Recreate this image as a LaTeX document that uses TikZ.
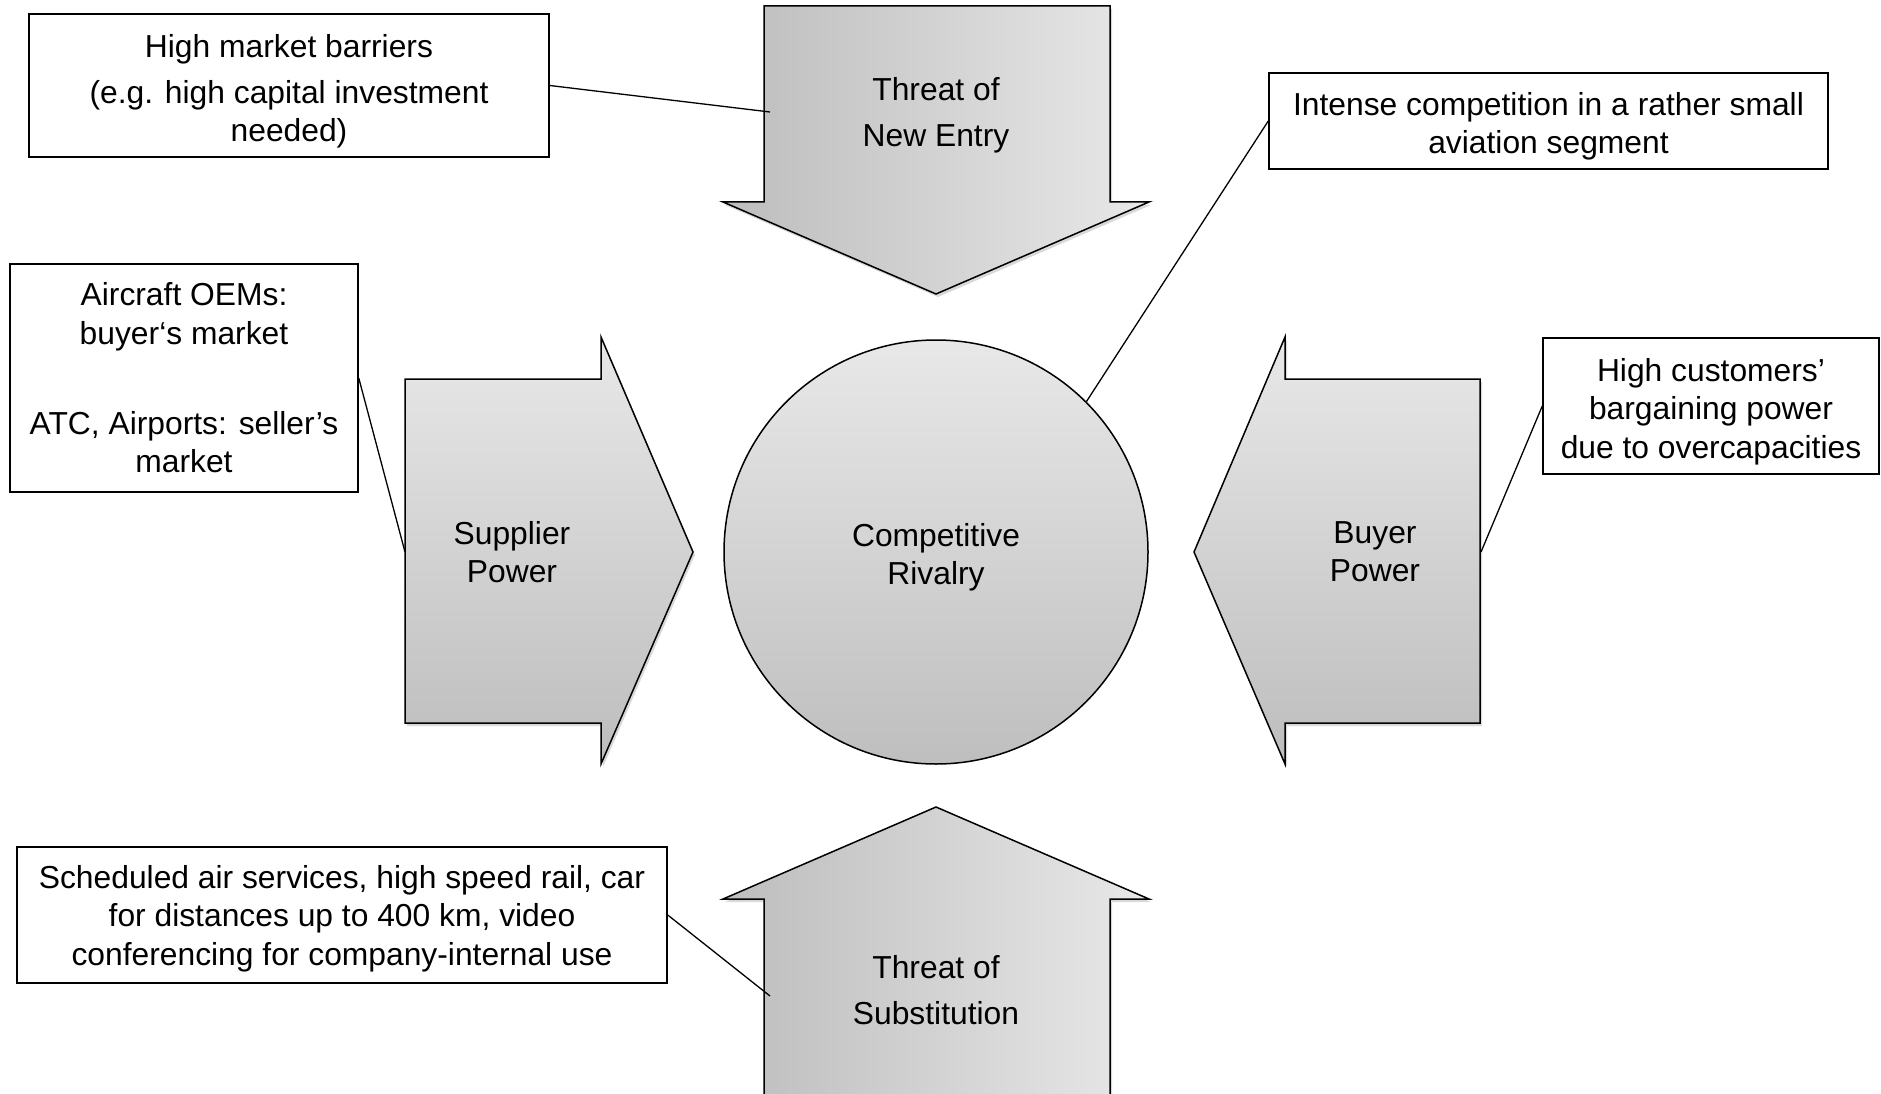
\documentclass[tikz,border=0pt]{standalone}
\usepackage{fontspec}
\setmainfont{Liberation Sans}
\usetikzlibrary{shadows}
\definecolor{gdark}{HTML}{BDBDBD}
\definecolor{glight}{HTML}{E8E8E8}
\newcommand{\topstrut}{\rule{0pt}{34pt}}
\newcommand{\smallstrut}{\rule{0pt}{30pt}}
\begin{document}
\begin{tikzpicture}[x=1pt,y=-1pt, line width=1.5pt,
  every node/.style={font=\fontsize{31.8}{38.4}\selectfont, align=center},
  callout/.style={draw, fill=white, inner sep=0pt},
  force/.style={draw, line join=miter, drop shadow={opacity=0.3, shadow xshift=2pt, shadow yshift=-3pt}},
  hgrad/.style={left color=gdark, right color=glight},
  vgrad/.style={top color=glight, bottom color=gdark},
  link/.style={line width=1.3pt}]
\useasboundingbox (0,0) rectangle (1881,1094);
\clip (0,0) rectangle (1881,1094);

% force arrows
\path[force, hgrad] (764,6) -- (1110,6) -- (1110,202) -- (1149,202) -- (936,294) -- (723,202) -- (764,202) -- cycle;
\path[force, vgrad] (405,379) -- (601,379) -- (601,337) -- (693,552) -- (601,764) -- (601,723) -- (405,723) -- cycle;
\path[force, vgrad] (1480,379) -- (1285,379) -- (1285,337) -- (1194,552) -- (1285,764) -- (1285,723) -- (1480,723) -- cycle;
\path[force, hgrad] (764,1110) -- (764,899) -- (723,899) -- (936,807) -- (1149,899) -- (1110,899) -- (1110,1110) -- cycle;

\node[circle, draw, top color=glight, bottom color=gdark!98, minimum size=424pt, inner sep=0pt] (rival) at (936,552) {\topstrut Competitive\\Rivalry};

\node (entry) at (936,115) {Threat of\\[7.6pt]New Entry};
\node (subst) at (936,990) {Threat of\\[7.6pt]Substitution};
\node (supp) at (512,552) {Supplier\\Power};
\node (buyer) at (1375,552) {Buyer\\Power};

\coordinate (pEntry) at (770,112);
\coordinate (pSupp) at (405,552);
\coordinate (pBuyer) at (1481,552);
\coordinate (pSubst) at (770,996);

% callout boxes
\node[callout, minimum width=520pt, minimum height=143pt] (barriers) at (289,85.5)
  {\topstrut High market barriers\\[7.6pt](e.g. high capital investment\\needed)};
\node[callout, minimum width=559pt, minimum height=96pt] (intense) at (1548.5,121)
  {\topstrut Intense competition in a rather small\\aviation segment};
\node[callout, minimum width=348pt, minimum height=228pt] (oems) at (184,378)
  {Aircraft OEMs:\\buyer‘s market\\[52pt]ATC, Airports: seller’s\\market};
\node[callout, minimum width=336pt, minimum height=136pt] (customers) at (1711,406)
  {\topstrut High customers’\\bargaining power\\due to overcapacities};
\node[callout, minimum width=650pt, minimum height=136pt] (substit) at (342,915)
  {\smallstrut Scheduled air services, high speed rail, car\\for distances up to 400 km, video\\conferencing for company-internal use};

% connectors
\draw[link] (barriers.east) -- (pEntry);
\draw[link] (intense.west) -- (rival.45);
\draw[link] (oems.east) -- (pSupp);
\draw[link] (customers.west) -- (pBuyer);
\draw[link] (substit.east) -- (pSubst);
\end{tikzpicture}
\end{document}
